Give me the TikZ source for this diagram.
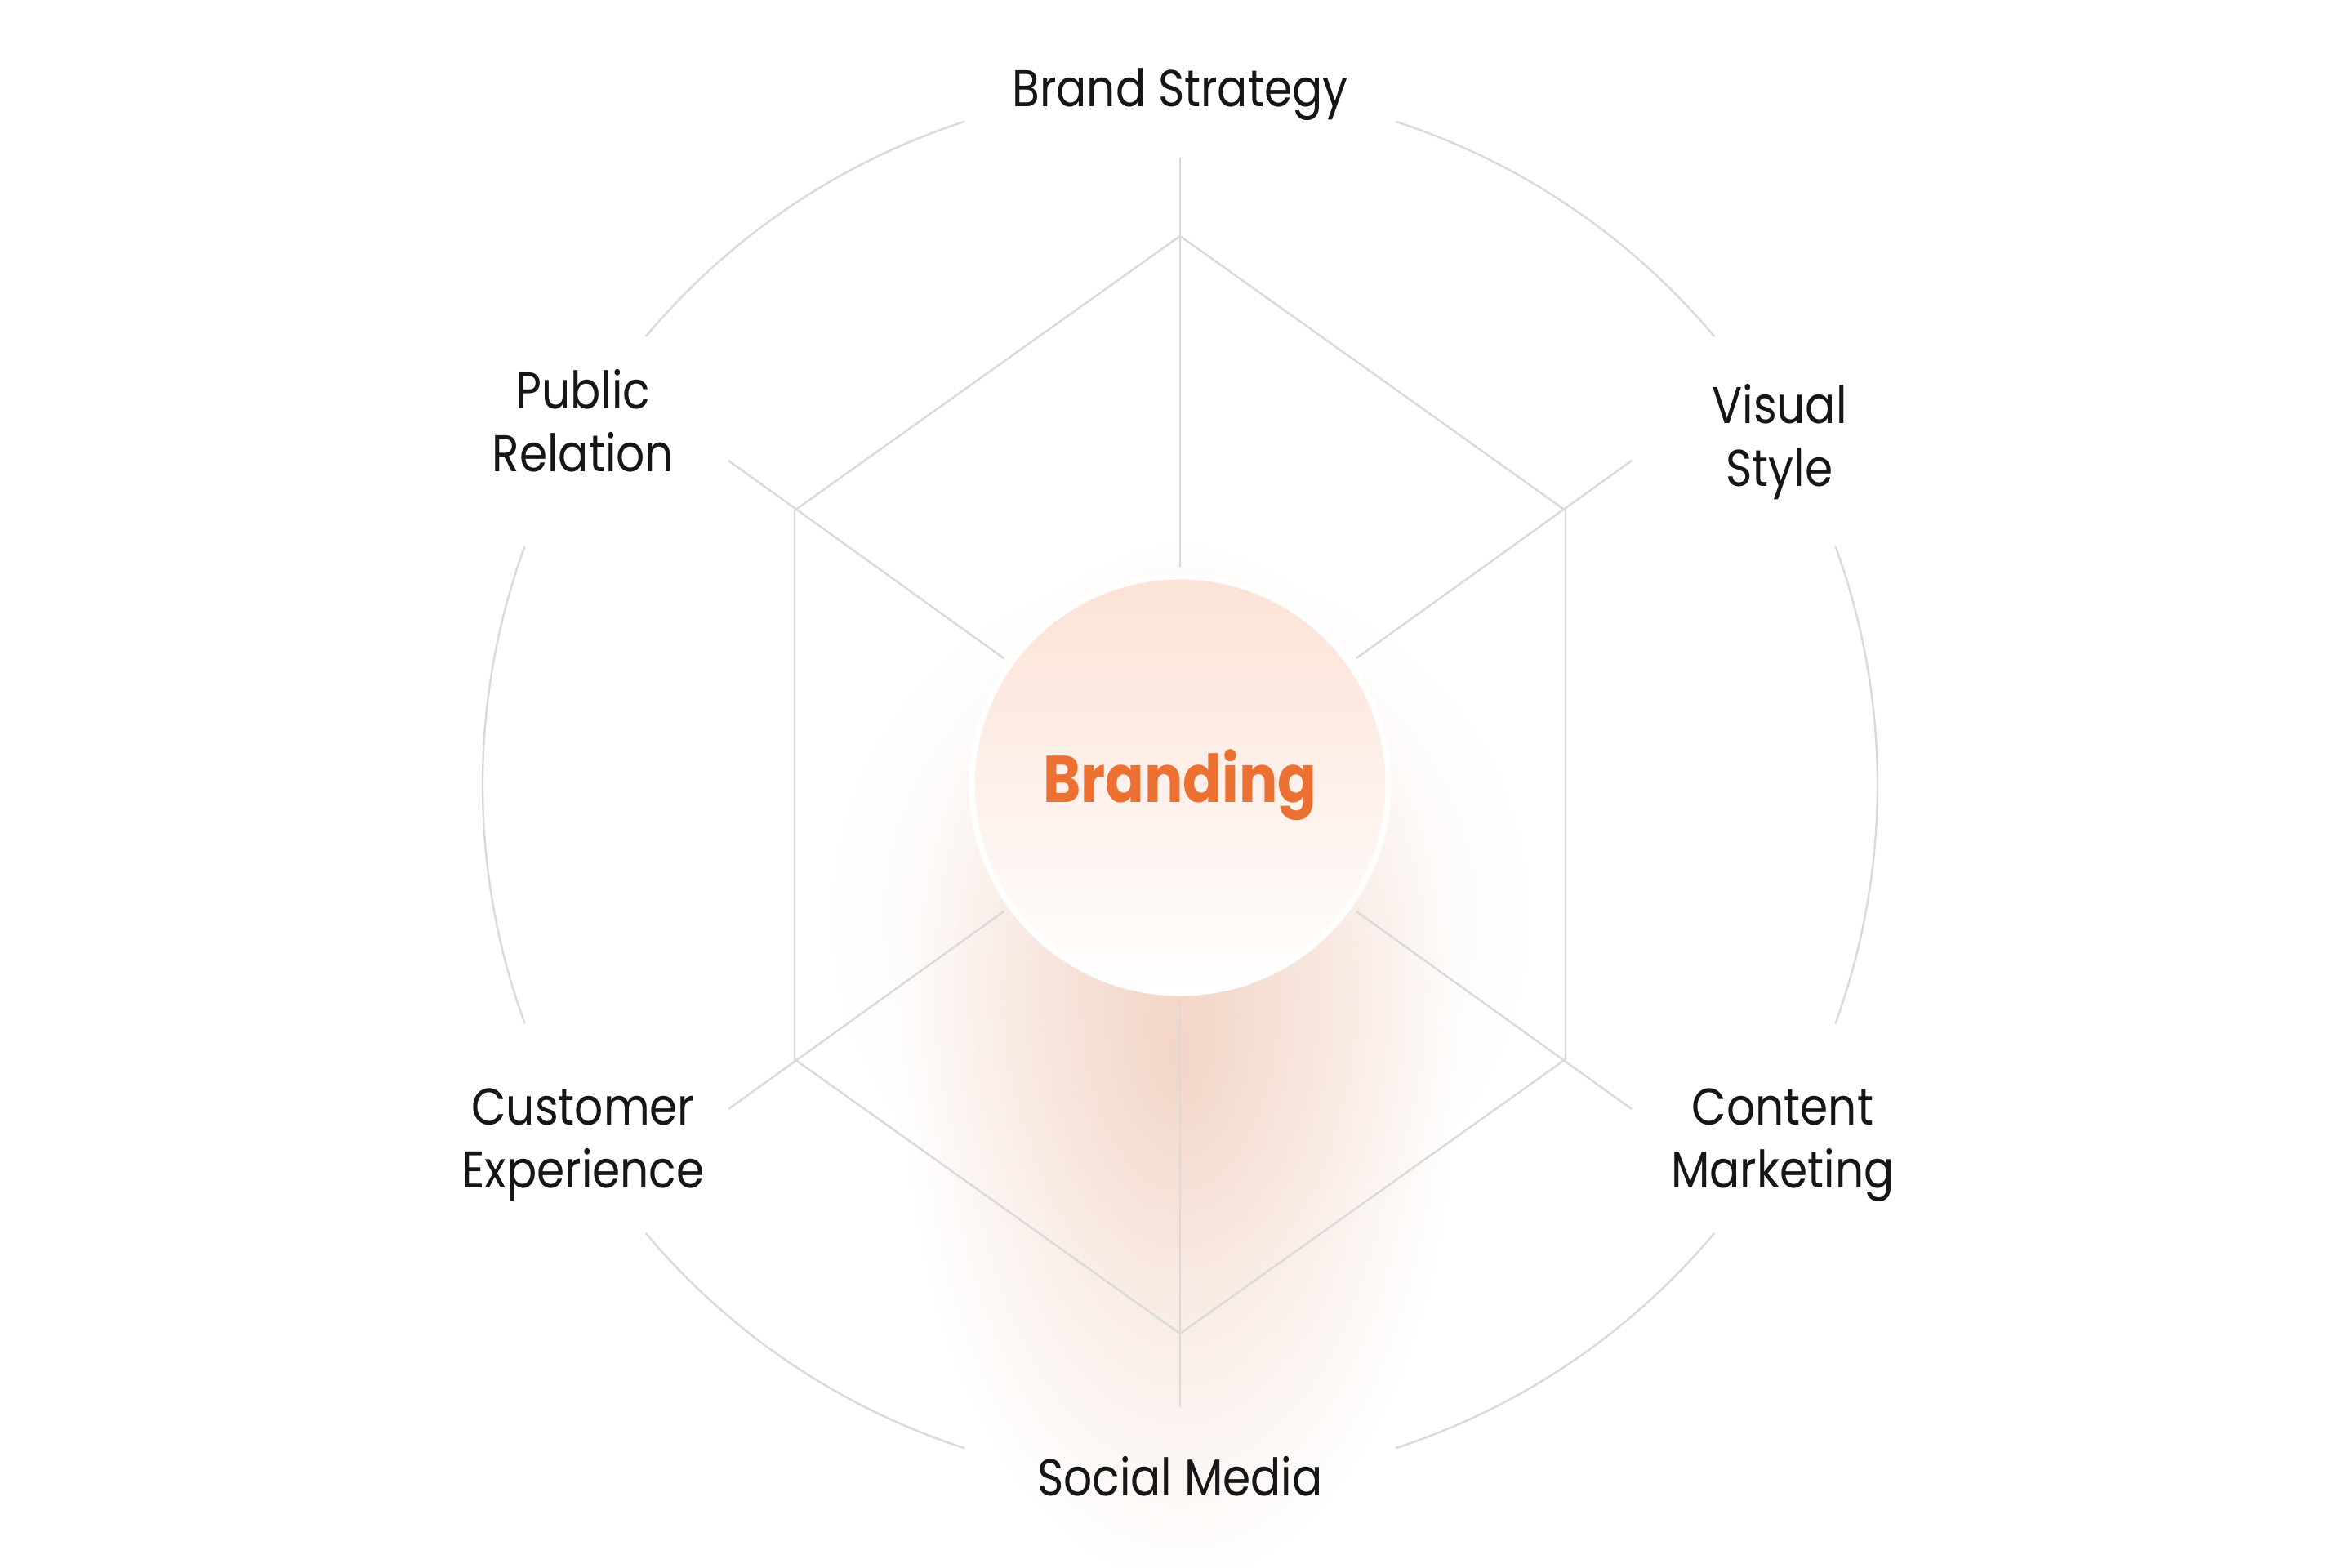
\documentclass[tikz,border=0pt]{standalone}
\usepackage{fontspec}
\setmainfont{Poppins}[FakeStretch=0.87]
\usetikzlibrary{positioning, fadings}
\definecolor{brandorange}{RGB}{236,112,50}
\definecolor{linegray}{RGB}{218,218,218}
\definecolor{labelink}{RGB}{22,22,22}
\definecolor{glowtan}{RGB}{226,160,128}
\definecolor{hubpeach}{RGB}{252,226,214}

\tikzfading[name=softglow, inner color=transparent!0, outer color=transparent!100]

\begin{document}
\begin{tikzpicture}[
    spoke/.style={draw=linegray, line width=0.7pt},
    rim/.style={draw=linegray, line width=0.7pt},
    topic/.style={text=labelink, align=center, font=\fontsize{18}{22}\selectfont},
]
    \useasboundingbox (-14.45,-9.58) rectangle (14.35,9.61);

    % Glow under the hub
    \fill[glowtan, path fading=softglow, fill opacity=0.38] (0,-3.4) ellipse (3.4cm and 6.4cm);
    \fill[glowtan, path fading=softglow, fill opacity=0.16] (0,-1.6) ellipse (4.4cm and 4.4cm);

    % Hexagon corners and spoke ends
    \coordinate (h1) at (0,6.72);
    \coordinate (h2) at (4.72,3.36);
    \coordinate (h3) at (4.72,-3.36);
    \coordinate (h4) at (0,-6.72);
    \coordinate (h5) at (-4.72,-3.36);
    \coordinate (h6) at (-4.72,3.36);
    \coordinate (e1) at (0,7.68);
    \coordinate (e2) at (5.53,3.97);
    \coordinate (e3) at (5.53,-3.97);
    \coordinate (e4) at (0,-7.62);
    \coordinate (e5) at (-5.53,-3.97);
    \coordinate (e6) at (-5.53,3.97);

    \draw[spoke] (h1) -- (h2) -- (h3) -- (h4) -- (h5) -- (h6) -- cycle;

    % Outer ring, broken at the labels
    \foreach \s/\e in {40/72, 108/140, 160/200, 220/252, 288/320, -20/20}
        \draw[rim] (\s:8.54) arc[start angle=\s, end angle=\e, radius=8.54];

    % Hub
    \node[circle, minimum size=5.1cm, inner sep=0pt, top color=hubpeach, bottom color=white,
          draw=white, line width=2pt, text=brandorange,
          font=\fontsize{23}{28}\selectfont\bfseries] (hub) at (0,0) {Branding};

    % Spokes
    \foreach \n in {1,...,6}
        \draw[spoke, shorten <=2pt] (hub) -- (e\n);

    % Topics
    \node[topic] (strategy) at (0,8.45) {Brand Strategy};
    \node[topic] (visual) at (7.34,4.20) {Visual\\Style};
    \node[topic] (content) at (7.38,-4.41) {Content\\Marketing};
    \node[topic] (social) at (0,-8.47) {Social Media};
    \node[topic] (customer) at (-7.31,-4.41) {Customer\\Experience};
    \node[topic] (public) at (-7.31,4.46) {Public\\Relation};
\end{tikzpicture}
\end{document}
